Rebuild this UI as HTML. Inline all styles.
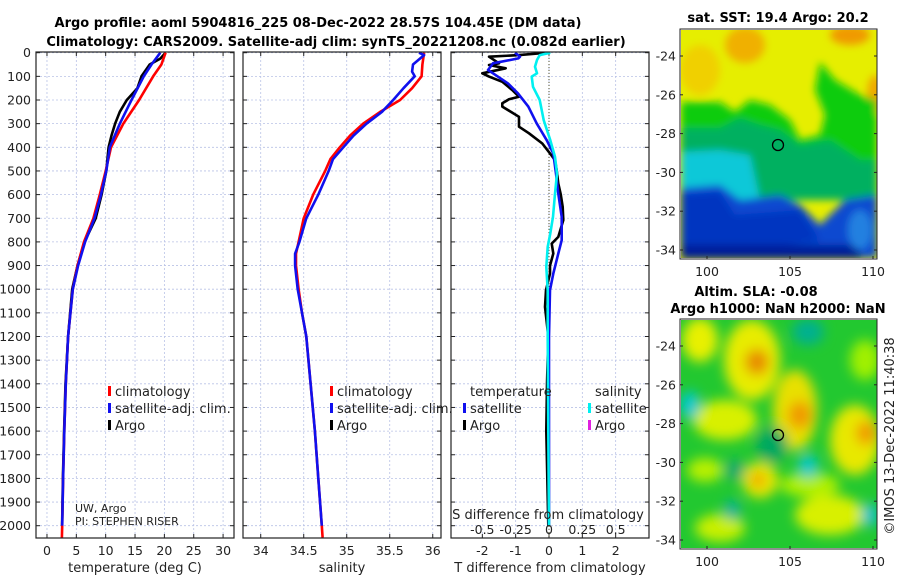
<!DOCTYPE html>
<html><head><meta charset="utf-8">
<style>
html,body{margin:0;padding:0;background:#fff;}
svg{display:block;font-family:"DejaVu Sans","Liberation Sans",sans-serif;}
</style></head>
<body>
<svg id="fig" width="900" height="580" viewBox="0 0 900 580" xmlns="http://www.w3.org/2000/svg">
<defs>
<clipPath id="c1"><rect x="36" y="52" width="198" height="486"/></clipPath>
<clipPath id="c2"><rect x="243" y="52" width="198" height="486"/></clipPath>
<clipPath id="c3"><rect x="451" y="52" width="198" height="486"/></clipPath>
<clipPath id="m1"><rect x="681" y="30" width="196" height="228"/></clipPath>
<clipPath id="m2"><rect x="681" y="320" width="196" height="228"/></clipPath>
<filter id="bl" x="-20%" y="-20%" width="140%" height="140%"><feGaussianBlur stdDeviation="4"/></filter>
<filter id="bl2" x="-50%" y="-50%" width="200%" height="200%"><feGaussianBlur stdDeviation="6"/></filter>
</defs>
<g font-weight="bold" font-size="13" text-anchor="middle">
<text x="318" y="27">Argo profile: aoml 5904816_225 08-Dec-2022 28.57S 104.45E (DM data)</text>
<text x="336" y="46">Climatology: CARS2009. Satellite-adj clim: synTS_20221208.nc (0.082d earlier)</text>
</g>
<g id="panels"></g>

<!-- top SST map -->
<g>
<text x="778" y="22" font-size="13" font-weight="bold" text-anchor="middle">sat. SST: 19.4 Argo: 20.2</text>
<g clip-path="url(#m1)">
<rect x="681" y="30" width="196" height="228" fill="#e6ee00"/>
<g filter="url(#bl)">
<ellipse cx="745" cy="45" rx="20" ry="18" fill="#f0b000"/>
<ellipse cx="850" cy="35" rx="20" ry="10" fill="#f09a00"/>
<ellipse cx="875" cy="95" rx="8" ry="20" fill="#f0a800"/>
<ellipse cx="700" cy="70" rx="20" ry="25" fill="#f0d000"/>
<polygon points="681,102 720,102 735,112 750,100 770,105 790,120 800,140 820,135 825,115 815,90 820,62 835,80 860,95 877,100 877,200 681,200" fill="#10cc10"/>
<polygon points="681,128 720,128 740,118 760,125 780,130 800,145 830,140 860,160 877,160 877,200 681,200" fill="#00b060"/>
<polygon points="681,152 720,150 750,155 760,200 681,200" fill="#10c8d8"/>
<polygon points="681,188 720,185 740,200 780,195 800,205 820,225 845,200 877,195 877,258 681,258" fill="#0a4ad0"/>
<polygon points="681,195 720,192 735,215 800,210 820,240 700,258 681,258" fill="#0535c0"/>
<rect x="681" y="245" width="180" height="14" fill="#061a98"/>
<ellipse cx="860" cy="230" rx="12" ry="20" fill="#2080e0"/>
</g>
</g>
<circle cx="778" cy="145" r="5.5" fill="none" stroke="#000" stroke-width="1.3"/>
<rect x="680" y="29" width="197" height="230" fill="none" stroke="#222" stroke-width="1"/>
</g>
<!-- bottom SLA map -->
<g>
<text x="756" y="296" font-size="13" font-weight="bold" text-anchor="middle">Altim. SLA: -0.08</text>
<text x="778" y="313" font-size="13" font-weight="bold" text-anchor="middle">Argo h1000: NaN h2000: NaN</text>
<g clip-path="url(#m2)">
<rect x="681" y="320" width="196" height="228" fill="#22c830"/>
<g filter="url(#bl2)">
<ellipse cx="700" cy="340" rx="18" ry="22" fill="#e8f000"/>
<ellipse cx="752" cy="360" rx="28" ry="40" fill="#e8ec00"/>
<ellipse cx="757" cy="362" rx="12" ry="13" fill="#e88a00"/>
<ellipse cx="795" cy="410" rx="22" ry="40" fill="#e8e000"/>
<ellipse cx="800" cy="415" rx="12" ry="14" fill="#f09a00"/>
<ellipse cx="855" cy="440" rx="25" ry="35" fill="#e8e800"/>
<ellipse cx="866" cy="433" rx="10" ry="12" fill="#f09a00"/>
<ellipse cx="725" cy="420" rx="32" ry="20" fill="#d8f000"/>
<ellipse cx="705" cy="470" rx="18" ry="12" fill="#b8f000"/>
<ellipse cx="760" cy="480" rx="18" ry="18" fill="#e8e800"/>
<ellipse cx="758" cy="480" rx="7" ry="7" fill="#f09a00"/>
<ellipse cx="830" cy="515" rx="35" ry="20" fill="#d8f000"/>
<ellipse cx="810" cy="485" rx="30" ry="12" fill="#b0f000"/>
<ellipse cx="720" cy="528" rx="25" ry="14" fill="#c8f000"/>
<ellipse cx="865" cy="360" rx="15" ry="20" fill="#a0f000"/>
<ellipse cx="690" cy="405" rx="10" ry="14" fill="#00c8d0"/>
<ellipse cx="808" cy="332" rx="16" ry="13" fill="#00b090"/>
<ellipse cx="808" cy="466" rx="10" ry="12" fill="#00c8c8"/>
<ellipse cx="732" cy="510" rx="8" ry="10" fill="#00b0a0"/>
<ellipse cx="870" cy="515" rx="8" ry="12" fill="#00c0d0"/>
<ellipse cx="772" cy="445" rx="16" ry="18" fill="#00a860"/>
<ellipse cx="735" cy="470" rx="10" ry="10" fill="#00a870"/>
</g>
</g>
<circle cx="778" cy="435" r="5.5" fill="none" stroke="#000" stroke-width="1.3"/>
<rect x="680" y="319" width="197" height="230" fill="none" stroke="#222" stroke-width="1"/>
</g>
<text transform="translate(894,436) rotate(-90)" font-size="13" text-anchor="middle" fill="#222">©IMOS 13-Dec-2022 11:40:38</text>
<g id="mapaxes"></g>
</svg>
<script>
// ---- data ----
var tDepthClim = [0,50,100,200,300,400,500,600,700,800,900,1000,1200,1400,1600,1800,2000,2050];
var tClim      = [20.2,19.5,18.1,15.7,13.0,10.9,10.0,9.0,7.9,6.3,5.2,4.4,3.6,3.2,2.95,2.75,2.6,2.55];
var tDepthSat  = [0,50,100,200,300,400,500,600,700,800,900,1000,1200,1400,1600,1800,2000];
var tSat       = [19.3,17.8,16.5,14.4,12.4,10.7,10.1,9.2,8.1,6.5,5.3,4.4,3.6,3.2,2.95,2.75,2.6];
var tDepthArgo = [0,25,50,100,150,200,250,300,350,400,500,600,700,800,900,1000,1200,1400,1600,1800,2000];
var tArgo      = [20.2,19.3,17.5,16.1,15.4,13.6,12.4,11.6,11.0,10.5,10.1,9.3,8.3,6.4,5.2,4.3,3.6,3.15,2.92,2.72,2.58];

var sDepthClim = [0,50,100,150,200,250,300,350,400,450,500,600,700,800,850,900,1000,1100,1200,1400,1600,1800,2000,2050];
var sClim      = [35.90,35.88,35.87,35.76,35.62,35.39,35.19,35.04,34.92,34.81,34.75,34.61,34.50,34.44,34.41,34.41,34.44,34.48,34.53,34.58,34.63,34.67,34.71,34.72];
var sDepthSat  = [0,10,50,80,100,150,200,250,300,350,400,450,500,600,700,800,850,900,1000,1200,1400,1600,1800,2000];
var sSat       = [35.84,35.90,35.77,35.76,35.79,35.66,35.54,35.41,35.23,35.08,34.96,34.84,34.79,34.67,34.53,34.45,34.40,34.40,34.43,34.53,34.58,34.63,34.67,34.71];

var dDepthArgoT = [0,10,17,45,52,66,87,101,123,158,186,197,214,228,271,313,341,384,426,454,497,553,598,652,708,779,807,849,900,934,1004,1075,1200,1400,1600,1800,2000];
var dArgoT      = [-0.05,-0.9,-1.8,-1.5,-1.8,-1.3,-2.0,-1.8,-1.4,-1.1,-0.9,-1.2,-1.4,-1.4,-0.9,-0.9,-0.6,-0.2,0.03,0.18,0.23,0.28,0.35,0.41,0.43,0.28,0.08,0.13,0.03,0.03,-0.09,-0.12,-0.02,-0.06,-0.08,-0.05,-0.02];
var dDepthSatT  = [0,17,24,45,73,87,130,172,228,299,370,426,511,596,694,793,849,934,1004,1200,1600,2000];
var dSatT       = [-1.02,-0.87,-0.92,-1.68,-1.83,-1.68,-1.23,-0.93,-0.62,-0.37,-0.07,0.13,0.21,0.28,0.38,0.38,0.28,0.13,0.03,0.0,0.0,0.0];
var dDepthSatS  = [0,10,31,59,87,101,144,200,285,370,440,511,596,694,764,821,906,1004,1200,1600,2000];
var dSatS       = [0.01,-0.07,-0.09,-0.105,-0.09,-0.13,-0.12,-0.07,-0.04,0.01,0.045,0.06,0.045,0.03,0.01,-0.01,-0.02,-0.01,-0.01,-0.005,0.0];

var depthTicks = [0,100,200,300,400,500,600,700,800,900,1000,1100,1200,1300,1400,1500,1600,1700,1800,1900,2000];
var tTicks = [0,5,10,15,20,25,30];
var sTicks = [34,34.5,35,35.5,36];
var dTicks = [-2,-1,0,1,2];
var sdTicks = [-0.5,-0.25,0,0.25,0.5];
var lonTicks = [100,105,110];
var latTicks = [-24,-26,-28,-30,-32,-34];

// ---- layout ----
var NS="http://www.w3.org/2000/svg";
var Y0=52, Y1=538;
function yD(d){return 52.7 + d*0.2365;}
function mk(tag,attrs,parent){var e=document.createElementNS(NS,tag);for(var k in attrs)e.setAttribute(k,attrs[k]);(parent||document.getElementById('panels')).appendChild(e);return e;}
function scale(px0,px1,v0,v1){return function(v){return px0+(v-v0)*(px1-px0)/(v1-v0);};}
var P=[
 {x0:36,x1:234,fx:scale(36,234,-1.87,31.86),ticks:tTicks,label:'temperature (deg C)',clip:'c1',name:'temperature-panel'},
 {x0:243,x1:441,fx:scale(243,441,33.794,36.096),ticks:sTicks,label:'salinity',clip:'c2',name:'salinity-panel'},
 {x0:451,x1:649,fx:scale(451,649,-2.94,3.0),ticks:dTicks,label:'T difference from climatology',clip:'c3',name:'difference-panel'}
];
P.forEach(function(p,i){
  var g=mk('g',{});
  
  
  depthTicks.forEach(function(d){var l=mk('line',{x1:p.x0,x2:p.x1,y1:yD(d),y2:yD(d),stroke:'#b9c2e6','stroke-width':0.8,'stroke-dasharray':'2,2'},g);
    
    });
  p.ticks.forEach(function(v){var x=p.fx(v);var l=mk('line',{x1:x,x2:x,y1:Y0,y2:Y1,stroke:'#b9c2e6','stroke-width':0.8,'stroke-dasharray':'2,2'},g);
    
    
    mk('line',{x1:x,x2:x,y1:Y1,y2:Y1-4,stroke:'#222'},g);mk('line',{x1:x,x2:x,y1:Y0,y2:Y0+4,stroke:'#222'},g);
    var t=mk('text',{x:x,y:555,'font-size':12.5,'text-anchor':'middle',fill:'#222'},g);t.textContent=String(v);
    
    });
  depthTicks.forEach(function(d){mk('line',{x1:p.x0,x2:p.x0+4,y1:yD(d),y2:yD(d),stroke:'#222'},g);mk('line',{x1:p.x1,x2:p.x1-4,y1:yD(d),y2:yD(d),stroke:'#222'},g);});
  var xl=mk('text',{x:(p.x0+p.x1)/2,y:572,'font-size':13,'text-anchor':'middle',fill:'#222'},g);xl.textContent=p.label;
  
  
});
depthTicks.forEach(function(d){var t=mk('text',{x:31,y:yD(d)+4.5,'font-size':12.5,'text-anchor':'end',fill:'#222'});t.textContent=d;
  
  });
var zl=mk('line',{x1:P[2].fx(0),x2:P[2].fx(0),y1:Y0,y2:Y1,stroke:'#555533','stroke-width':1,'stroke-dasharray':'1,2'});



function series(p,depths,vals,color,name,w,conv){
  var pts=depths.map(function(d,i){var v=conv?conv(vals[i]):vals[i];return p.fx(v).toFixed(1)+','+yD(d).toFixed(1);}).join(' ');
  var e=mk('polyline',{points:pts,fill:'none',stroke:color,'stroke-width':w||2.6,'stroke-linejoin':'round','clip-path':'url(#'+p.clip+')'});
  
  
}
series(P[0],tDepthArgo,tArgo,'#000','argo-temperature-line');
series(P[0],tDepthClim,tClim,'#f00','climatology-temperature-line');
series(P[0],tDepthSat,tSat,'#1010ee','satellite-temperature-line');
series(P[1],sDepthClim,sClim,'#f00','climatology-salinity-line');
series(P[1],sDepthSat,sSat,'#1010ee','satellite-salinity-line');
series(P[2],dDepthArgoT,dArgoT,'#000','argo-temp-diff-line');
series(P[2],dDepthSatT,dSatT,'#1010ee','satellite-temp-diff-line');
series(P[2],dDepthSatS,dSatS,'#00f0f0','satellite-sal-diff-line',2.6,function(s){return s*4;});

P.forEach(function(p){var r=mk('rect',{x:p.x0,y:Y0,width:p.x1-p.x0,height:Y1-Y0,fill:'none',stroke:'#222','stroke-width':1.2});
  
  });

function leg(x,y,color,label){
  if(color){var m=mk('rect',{x:x-7,y:y-10,width:3,height:10,fill:color});
    
    }
  var t=mk('text',{x:x,y:y,'font-size':13,fill:'#222'});t.textContent=label;
  
  
}
leg(115,396,'#f00','climatology');leg(115,413,'#1010ee','satellite-adj. clim.');leg(115,430,'#000','Argo');
leg(337,396,'#f00','climatology');leg(337,413,'#1010ee','satellite-adj. clim.');leg(337,430,'#000','Argo');
leg(470,396,null,'temperature');leg(470,413,'#1010ee','satellite');leg(470,430,'#000','Argo');
leg(595,396,null,'salinity');leg(595,413,'#00f0f0','satellite');leg(595,430,'#e020e0','Argo');

var c1=mk('text',{x:75,y:512,'font-size':11,fill:'#222'});c1.textContent='UW, Argo';


var c2=mk('text',{x:75,y:525,'font-size':11,fill:'#222'});c2.textContent='PI: STEPHEN RISER';


var st=mk('text',{x:548,y:519,'font-size':13,'text-anchor':'middle',fill:'#222'});st.textContent='S difference from climatology';


sdTicks.forEach(function(v){var t=mk('text',{x:P[2].fx(v*4),y:534,'font-size':12.5,'text-anchor':'middle',fill:'#222'});t.textContent=String(v);
  
  });

var ma=document.getElementById('mapaxes');
var lonX=scale(707,873,100,110);
[[29,259],[319,549]].forEach(function(b,k){
  var latY=scale(b[0]+27,b[0]+221,-24,-34);
  lonTicks.forEach(function(v){var x=lonX(v);mk('line',{x1:x,x2:x,y1:b[1],y2:b[1]-3,stroke:'#222'},ma);
    var t=mk('text',{x:x,y:b[1]+17,'font-size':12.5,'text-anchor':'middle',fill:'#222'},ma);t.textContent=v;
    
    });
  latTicks.forEach(function(v){var y=latY(v);mk('line',{x1:680,x2:683,y1:y,y2:y,stroke:'#222'},ma);mk('line',{x1:877,x2:874,y1:y,y2:y,stroke:'#222'},ma);
    var t=mk('text',{x:676,y:y+4.5,'font-size':12.5,'text-anchor':'end',fill:'#222'},ma);t.textContent=v;
    
    });
});
</script>
</body></html>
